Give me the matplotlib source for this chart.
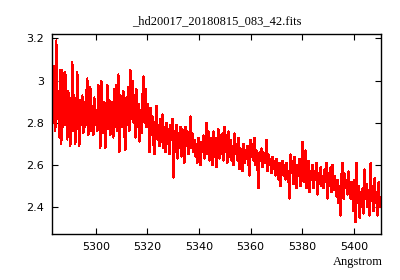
import numpy as np
import matplotlib
matplotlib.use("Agg")
import matplotlib.pyplot as plt
from matplotlib.ticker import FixedLocator, FuncFormatter

title = "_hd20017_20180815_083_42.fits"
xlabel = "Angstrom"

# wavelength grid of the spectrum (FITS header style)
crval1 = 5283.2
cdelt1 = 0.3876

flux = [
    2.93, 2.80, 3.07, 2.76, 3.19, 2.82, 2.95, 2.73, 3.05, 2.70,
    3.05, 2.78, 2.92, 3.04, 2.80, 2.72, 2.95, 2.77, 2.69, 2.90,
    3.09, 2.76, 2.93, 2.70, 2.88, 3.04, 2.78, 2.69, 2.91, 2.79,
    2.93, 2.75, 2.90, 2.78, 2.95, 3.01, 2.74, 2.92, 2.97, 2.76,
    2.88, 2.74, 2.92, 2.79, 2.86, 2.76, 2.98, 2.80, 2.68, 3.00,
    2.84, 2.75, 2.90, 2.68, 2.87, 2.98, 2.77, 2.91, 2.74, 2.88,
    2.90, 2.73, 2.96, 2.78, 2.98, 2.76, 3.03, 2.66, 2.93, 2.80,
    2.78, 2.95, 2.74, 2.67, 2.92, 2.79, 2.97, 2.76, 3.05, 2.82,
    3.00, 2.80, 2.93, 2.73, 2.96, 2.78, 2.89, 2.71, 2.86, 2.75,
    2.93, 3.02, 2.80, 2.96, 2.78, 2.89, 2.82, 2.66, 2.87, 2.74,
    2.83, 2.70, 2.65, 2.80, 2.88, 2.72, 2.79, 2.69, 2.82, 2.71,
    2.84, 2.68, 2.78, 2.66, 2.80, 2.70, 2.77, 2.65, 2.79, 2.72,
    2.82, 2.54, 2.76, 2.66, 2.79, 2.63, 2.75, 2.68, 2.78, 2.64,
    2.77, 2.66, 2.61, 2.78, 2.69, 2.76, 2.65, 2.74, 2.83, 2.68,
    2.75, 2.66, 2.72, 2.64, 2.70, 2.61, 2.73, 2.63, 2.60, 2.71,
    2.66, 2.74, 2.63, 2.72, 2.80, 2.65, 2.76, 2.62, 2.73, 2.67,
    2.60, 2.76, 2.64, 2.73, 2.59, 2.70, 2.77, 2.63, 2.74, 2.65,
    2.75, 2.62, 2.78, 2.66, 2.74, 2.61, 2.76, 2.64, 2.72, 2.62,
    2.69, 2.60, 2.75, 2.65, 2.70, 2.62, 2.73, 2.58, 2.68, 2.63,
    2.57, 2.70, 2.61, 2.67, 2.63, 2.69, 2.60, 2.55, 2.72, 2.64,
    2.70, 2.62, 2.73, 2.60, 2.67, 2.58, 2.49, 2.66, 2.62, 2.68,
    2.59, 2.66, 2.61, 2.64, 2.72, 2.57, 2.65, 2.60, 2.63, 2.56,
    2.64, 2.58, 2.62, 2.55, 2.63, 2.59, 2.53, 2.61, 2.50, 2.59,
    2.62, 2.55, 2.60, 2.53, 2.61, 2.57, 2.52, 2.44, 2.65, 2.56,
    2.62, 2.51, 2.64, 2.58, 2.49, 2.60, 2.55, 2.63, 2.50, 2.58,
    2.71, 2.52, 2.60, 2.67, 2.49, 2.58, 2.62, 2.47, 2.57, 2.53,
    2.60, 2.49, 2.57, 2.53, 2.61, 2.46, 2.56, 2.51, 2.59, 2.50,
    2.55, 2.49, 2.58, 2.52, 2.61, 2.44, 2.56, 2.50, 2.59, 2.47,
    2.60, 2.48, 2.55, 2.51, 2.45, 2.53, 2.42, 2.50, 2.36, 2.56,
    2.61, 2.44, 2.56, 2.49, 2.53, 2.46, 2.57, 2.50, 2.44, 2.52,
    2.49, 2.38, 2.53, 2.33, 2.61, 2.42, 2.50, 2.35, 2.47, 2.40,
    2.49, 2.37, 2.58, 2.44, 2.51, 2.40, 2.48, 2.36, 2.61, 2.43,
    2.50, 2.38, 2.54, 2.42, 2.47, 2.36, 2.52, 2.40, 2.45,
]

xticks = [5300, 5320, 5340, 5360, 5380, 5400]
yticks = [2.4, 2.6, 2.8, 3.0, 3.2]

wave = crval1 + cdelt1 * np.arange(len(flux))

fig = plt.figure(figsize=(4.0, 2.8), dpi=100)
ax = fig.add_axes([0.131, 0.164, 0.8215, 0.715])
ax.plot(wave, flux, color="#ff0000", linewidth=0.8, antialiased=False)

ax.set_xlim(5283.2, 5410.5)
ax.set_ylim(2.273, 3.221)
ax.xaxis.set_major_locator(FixedLocator(xticks))
ax.yaxis.set_major_locator(FixedLocator(yticks))
ax.yaxis.set_major_formatter(FuncFormatter(lambda v, p: "%g" % v))
ax.tick_params(direction="in", length=4, width=0.8, top=True, right=True,
               labelsize=8, pad=6, colors="black")
for lab in ax.get_xticklabels() + ax.get_yticklabels():
    lab.set_family("DejaVu Sans")
for s in ax.spines.values():
    s.set_linewidth(1.0)
    s.set_color("black")

ax.set_title(title, fontsize=9, family="Liberation Serif", pad=7)
fig.text(0.958, 0.064, xlabel, ha="right", va="center", fontsize=9,
         family="Liberation Serif")

fig.savefig("out.png", dpi=100)
